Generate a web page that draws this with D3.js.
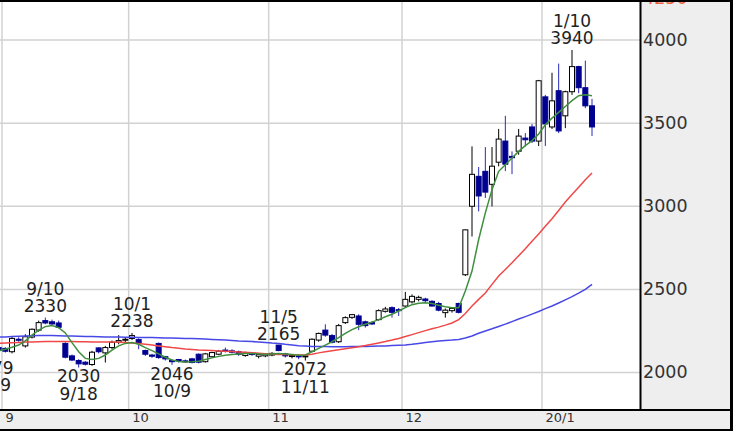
<!DOCTYPE html>
<html><head><meta charset="utf-8">
<script src="https://cdn.jsdelivr.net/npm/d3@7"></script>
<style>
html,body{margin:0;padding:0;background:#fff;}
svg{display:block;font-family:"DejaVu Sans",Verdana,sans-serif;}
</style></head>
<body>
<svg id="c" width="733" height="432"></svg>
<script>
// ---- data ----
const dates = ["8/29","8/30",
"9/2","9/3","9/4","9/5","9/6","9/9","9/10","9/11","9/12","9/13","9/17","9/18","9/19","9/20","9/24","9/25","9/26","9/27","9/30",
"10/1","10/2","10/3","10/4","10/7","10/8","10/9","10/10","10/11","10/15","10/16","10/17","10/18","10/21","10/23","10/24","10/25","10/28","10/29","10/30","10/31",
"11/1","11/5","11/6","11/7","11/8","11/11","11/12","11/13","11/14","11/15","11/18","11/19","11/20","11/21","11/22","11/25","11/26","11/27","11/28","11/29",
"12/2","12/3","12/4","12/5","12/6","12/9","12/10","12/11","12/12","12/13","12/16","12/17","12/18","12/19","12/20","12/23","12/24","12/25","12/26","12/27","12/30",
"1/6","1/7","1/8","1/9","1/10","1/14","1/15","1/16"];

const open = [2095,2150,
2145,2125,2200,2160,2213,2255,2312,2305,2298,2175,2100,2072,2062,2048,2148,2118,2150,2182,2195,
2205,2198,2132,2105,2175,2095,2072,2078,2070,2082,2110,2065,2095,2110,2135,2130,2125,2102,2115,2098,2100,
2105,2165,2112,2098,2100,2095,2128,2195,2255,2222,2185,2300,2332,2340,2305,2300,2318,2368,2390,2378,
2400,2425,2440,2442,2428,2415,2360,2372,2415,2588,3000,3180,3210,3132,3265,3392,3300,3331,3410,3477,3392,
3658,3477,3695,3544,3689,3840,3713,3604];

const high = [2125,2158,
2152,2215,2212,2230,2265,2312,2330,2318,2312,2182,2108,2080,2068,2130,2152,2160,2192,2225,2212,
2238,2206,2138,2112,2180,2100,2080,2082,2078,2088,2115,2118,2125,2136,2150,2140,2132,2125,2122,2112,2115,
2122,2165,2118,2110,2108,2105,2205,2240,2290,2232,2292,2338,2352,2350,2312,2310,2380,2395,2398,2388,
2485,2470,2462,2450,2435,2425,2385,2392,2420,2860,3360,3236,3356,3356,3465,3544,3330,3465,3440,3495,3760,
3670,3803,3858,3695,3940,3845,3876,3646];

const low = [2079,2125,
2120,2115,2185,2150,2205,2245,2290,2285,2265,2085,2068,2030,2042,2040,2115,2060,2140,2170,2180,
2195,2140,2100,2088,2082,2072,2046,2060,2058,2055,2055,2060,2090,2105,2120,2115,2100,2095,2100,2085,2092,
2098,2128,2090,2085,2080,2072,2122,2185,2215,2175,2178,2292,2322,2255,2270,2285,2312,2360,2330,2340,
2395,2415,2428,2420,2395,2368,2330,2360,2355,2580,2818,2969,3050,2999,3240,3211,3193,3310,3360,3380,3362,
3362,3465,3440,3470,3670,3680,3590,3422];

const close = [2115,2135,
2128,2205,2195,2215,2260,2300,2298,2292,2272,2092,2075,2052,2050,2122,2125,2150,2182,2192,2200,
2222,2178,2110,2098,2090,2082,2065,2070,2064,2060,2062,2112,2120,2128,2128,2122,2110,2118,2108,2108,2110,
2115,2132,2100,2102,2095,2100,2200,2235,2225,2182,2282,2330,2348,2290,2282,2292,2372,2382,2362,2372,
2440,2458,2452,2432,2400,2375,2375,2385,2362,2858,3192,3062,3085,3241,3404,3253,3292,3422,3400,3392,3755,
3495,3634,3453,3689,3840,3713,3604,3477];

const ma5 = [2120,2130,
2140,2152,2165,2190,2225,2255,2276,2282,2270,2238,2180,2125,2085,2078,2085,2105,2135,2160,2175,
2180,2170,2150,2132,2112,2092,2075,2066,2063,2064,2068,2078,2088,2097,2104,2108,2112,2115,2115,2112,2110,
2112,2115,2112,2108,2104,2105,2125,2145,2165,2185,2210,2235,2258,2275,2290,2303,2318,2335,2350,2370,
2390,2408,2417,2420,2415,2405,2395,2390,2390,2490,2610,2800,2960,3100,3210,3250,3290,3330,3365,3395,3435,
3490,3530,3565,3600,3635,3665,3670,3665];

const ma25 = [2172,2175,
2177,2179,2181,2183,2184,2185,2186,2187,2187,2187,2186,2185,2185,2184,2184,2184,2183,2182,2180,
2178,2175,2170,2165,2160,2155,2150,2146,2142,2139,2136,2134,2132,2130,2128,2126,2124,2122,2119,2116,2113,
2110,2109,2108,2107,2106,2105,2110,2118,2125,2131,2137,2143,2149,2155,2162,2170,2178,2186,2195,2205,
2216,2228,2240,2252,2263,2273,2285,2298,2318,2355,2400,2440,2478,2530,2580,2620,2660,2702,2745,2790,2833,
2880,2925,2975,3025,3070,3115,3160,3200];

const ma75 = [2212,2213,
2214,2216,2218,2220,2221,2222,2222,2222,2221,2220,2219,2218,2217,2216,2215,2214,2213,2213,2212,
2212,2211,2210,2210,2209,2208,2207,2206,2205,2204,2203,2201,2199,2197,2195,2193,2190,2188,2186,2183,2180,
2177,2175,2170,2166,2161,2159,2157,2156,2156,2155,2155,2155,2156,2156,2157,2158,2159,2160,2162,2164,
2166,2170,2175,2180,2185,2189,2192,2195,2199,2207,2220,2236,2250,2263,2277,2291,2306,2322,2336,2351,2367,
2384,2400,2418,2437,2456,2477,2500,2530];

const yTicks = [2000,2500,3000,3500,4000];
const yTopTick = 4250;
const monthTickDates = ["9/2","10/1","11/1","12/2","1/6"];
const monthTickLabels = ["9","10","11","12","20/1"];
const highLabelDates = ["9/10","10/1","11/5","1/10"];
const highLabelValues = [2330,2238,2165,3940];
const lowLabelDates = ["8/29","9/18","10/9","11/11"];
const lowLabelValues = [2079,2030,2046,2072];

// ---- layout ----
const W = 733, H = 432;
const plotR = 640, plotB = 410;
const svg = d3.select("#c");

const x = d3.scalePoint().domain(dates).range([-8, 592]);
const y = d3.scaleLinear().domain([2000, 4000]).range([372.5, 40]);
const step = x.step();

svg.append("rect").attr("width", W).attr("height", H).attr("fill", "#fff");
svg.append("rect").attr("x", plotR).attr("y", 0).attr("width", W - plotR).attr("height", plotB).attr("fill", "#eeeeee");
svg.append("rect").attr("x", 0).attr("y", plotB).attr("width", W).attr("height", 20).attr("fill", "#eeeeee");

svg.append("defs").append("clipPath").attr("id", "clip")
  .append("rect").attr("x", 0).attr("y", 0).attr("width", plotR).attr("height", plotB);
const plot = svg.append("g").attr("clip-path", "url(#clip)");

// grid
plot.selectAll("line.hg").data(yTicks).join("line")
  .attr("x1", 0).attr("x2", plotR)
  .attr("y1", d => y(d)).attr("y2", d => y(d))
  .attr("stroke", "#d2d2d2").attr("stroke-width", 1.5);
plot.selectAll("line.vg").data(monthTickDates).join("line")
  .attr("x1", d => x(d) - step / 2).attr("x2", d => x(d) - step / 2)
  .attr("y1", 0).attr("y2", plotB)
  .attr("stroke", "#d2d2d2").attr("stroke-width", 1.5);

// candles
const idx = d3.range(dates.length);
const upCol = "#000", dnBody = "#000090", dnWick = "#2a2ab8";
const cg = plot.append("g");
cg.selectAll("line.wick").data(idx).join("line")
  .attr("x1", i => x(dates[i])).attr("x2", i => x(dates[i]))
  .attr("y1", i => y(high[i])).attr("y2", i => y(low[i]))
  .attr("stroke", i => close[i] >= open[i] ? upCol : dnWick).attr("stroke-width", 1);
cg.selectAll("rect.body").data(idx).join("rect")
  .attr("x", i => x(dates[i]) - 2.5)
  .attr("width", 5)
  .attr("y", i => y(Math.max(open[i], close[i])))
  .attr("height", i => Math.max(1, Math.abs(y(open[i]) - y(close[i]))))
  .attr("fill", i => close[i] >= open[i] ? "#fff" : dnBody)
  .attr("stroke", i => close[i] >= open[i] ? upCol : dnBody)
  .attr("stroke-width", 1);

// moving averages
function maLine(arr, col) {
  plot.append("path").datum(idx)
    .attr("d", d3.line().x(i => x(dates[i])).y(i => y(arr[i])))
    .attr("fill", "none").attr("stroke", col).attr("stroke-width", 1.5);
}
maLine(ma75, "#4848e6");
maLine(ma25, "#f04848");
maLine(ma5, "#3f8f3f");

// high/low labels
const lab = plot.append("g").attr("font-size", 17).attr("fill", "#222").attr("text-anchor", "middle");
highLabelDates.forEach((d, k) => {
  const cx = x(d), yy = y(highLabelValues[k]);
  lab.append("text").attr("x", cx).attr("y", yy - 22.5).text(d);
  lab.append("text").attr("x", cx).attr("y", yy - 5.5).text(highLabelValues[k]);
});
lowLabelDates.forEach((d, k) => {
  const cx = x(d), yy = y(lowLabelValues[k]);
  lab.append("text").attr("x", cx).attr("y", yy + 14.7).text(lowLabelValues[k]);
  lab.append("text").attr("x", cx).attr("y", yy + 32).text(d);
});

// right axis
const yAxis = d3.axisRight(y).tickValues(yTicks.concat([yTopTick])).tickSize(0).tickPadding(3).tickFormat(d3.format("d"));
const ya = svg.append("g").attr("transform", `translate(${plotR},0)`).call(yAxis);
ya.select(".domain").remove();
ya.selectAll("text").attr("font-family", "DejaVu Sans").attr("font-size", 17.5)
  .attr("fill", d => d === yTopTick ? "#ee6040" : "#333").attr("dy", "0.3em");

// bottom axis
const xAxis = d3.axisBottom(x).tickValues(monthTickDates).tickSize(0)
  .tickFormat(d => monthTickLabels[monthTickDates.indexOf(d)]);
const xa = svg.append("g").attr("transform", `translate(0,${plotB})`).call(xAxis);
xa.select(".domain").remove();
xa.selectAll("text").attr("font-family", "DejaVu Sans").attr("font-size", 13).attr("fill", "#333")
  .attr("text-anchor", "start").attr("x", -step / 2 + 3).attr("y", 12).attr("dy", 0);

// borders
svg.append("line").attr("x1", 0).attr("x2", W).attr("y1", 1).attr("y2", 1).attr("stroke", "#000").attr("stroke-width", 2);
svg.append("line").attr("x1", plotR + 0.5).attr("x2", plotR + 0.5).attr("y1", 0).attr("y2", plotB).attr("stroke", "#000").attr("stroke-width", 2);
svg.append("line").attr("x1", W - 1.5).attr("x2", W - 1.5).attr("y1", 0).attr("y2", 431).attr("stroke", "#000").attr("stroke-width", 3);
svg.append("line").attr("x1", 0).attr("x2", W).attr("y1", plotB).attr("y2", plotB).attr("stroke", "#000").attr("stroke-width", 2);
svg.append("line").attr("x1", 0).attr("x2", W).attr("y1", 430).attr("y2", 430).attr("stroke", "#000").attr("stroke-width", 2);
</script>
</body></html>
